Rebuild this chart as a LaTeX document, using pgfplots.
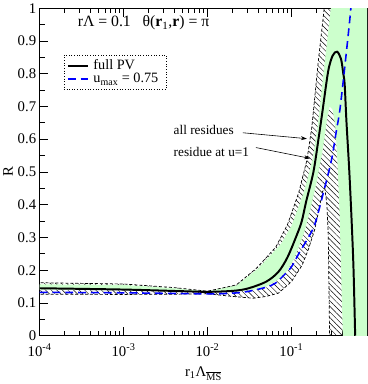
\documentclass[border=0pt]{standalone}
\usepackage{fontspec}
\setmainfont{Liberation Serif}
\usepackage{pgfplots}
\pgfplotsset{compat=1.18}
\usetikzlibrary{patterns.meta,arrows.meta}
\definecolor{bandgreen}{RGB}{204,255,204}

\newcommand{\tfont}{\fontsize{15}{17}\selectfont}

\begin{document}
\begin{tikzpicture}
\begin{axis}[
  scale only axis, width=332bp, height=332bp,
  xmode=log, xmin=1e-4, xmax=0.8, ymin=0, ymax=1,
  xtick={1e-4,1e-3,1e-2,1e-1},
  xticklabels={10\textsuperscript{-4},10\textsuperscript{-3},10\textsuperscript{-2},10\textsuperscript{-1}},
  minor xtick={2e-4,3e-4,4e-4,5e-4,6e-4,7e-4,8e-4,9e-4,
               2e-3,3e-3,4e-3,5e-3,6e-3,7e-3,8e-3,9e-3,
               2e-2,3e-2,4e-2,5e-2,6e-2,7e-2,8e-2,9e-2,
               0.2,0.3,0.4,0.5,0.6,0.7},
  ytick={0,0.1,0.2,0.3,0.4,0.5,0.6,0.7,0.8,0.9,1},
  yticklabels={0,0.1,0.2,0.3,0.4,0.5,0.6,0.7,0.8,0.9,1},
  minor ytick={0.05,0.15,0.25,0.35,0.45,0.55,0.65,0.75,0.85,0.95},
  tick align=inside, major tick length=9bp, minor tick length=5bp,
  tick style={black, line width=0.8pt},
  axis line style={line width=1.1pt},
  ticklabel style={font=\tfont},
  xticklabel style={yshift=-5bp},
  label style={font=\tfont},
  xlabel={r\textsubscript{1}Λ\textsubscript{$\overline{\mbox{MS}}$}},
  ylabel={R},
  xlabel style={yshift=-4bp},
  ylabel style={yshift=-2bp},
  legend style={at={(0.073,0.858)}, anchor=north west, draw=black, dotted,
    line width=0.7pt, font=\fontsize{14.5}{16}\selectfont, inner sep=3bp,
    row sep=-2bp, nodes={inner xsep=5bp}},
  legend image code/.code={\draw[#1] (0bp,0bp) -- (20bp,0bp);},
  legend cell align=left,
]
% residue at u=1 (hatched band)
\addplot[draw=none, pattern={Lines[angle=-45, distance=4bp, line width=0.45bp]},
  pattern color=black, forget plot] coordinates {
  (9e-5,0.162) (1e-3,0.158) (0.004,0.147) (0.01,0.136) (0.022,0.155)
  (0.038,0.205) (0.065,0.27) (0.09,0.34) (0.122,0.436) (0.153,0.536)
  (0.175,0.636) (0.209,0.837) (0.246,1.0) (0.26,1.3) (0.9,1.3) (0.9,-0.2)
  (0.287,-0.2) (0.285,0) (0.28,0.15) (0.275,0.30) (0.265,0.40) (0.25,0.45)
  (0.235,0.44) (0.215,0.39) (0.19,0.325) (0.16,0.265) (0.134,0.215) (0.1,0.165)
  (0.07,0.13) (0.05,0.12) (0.035,0.1145) (0.02,0.12) (0.01,0.128)
  (0.005,0.127) (0.001,0.126) (9e-5,0.127)} -- cycle;
% all residues (green band)
\addplot[draw=none, fill=bandgreen, forget plot] coordinates {
  (9e-5,0.157) (1e-3,0.155) (0.004,0.145) (0.01,0.136) (0.022,0.153)
  (0.04,0.205) (0.075,0.28) (0.1,0.335) (0.14,0.436)
  (0.178,0.536) (0.205,0.636) (0.25,0.837) (0.295,1.0) (0.31,1.05)
  (0.9,1.05) (0.9,-0.2) (0.415,-0.2) (0.41,0) (0.395,0.15) (0.377,0.355)
  (0.355,0.52) (0.335,0.635) (0.31,0.69) (0.285,0.70) (0.265,0.66)
  (0.25,0.61) (0.23,0.55) (0.2,0.47) (0.17,0.39) (0.14,0.31)
  (0.11,0.24) (0.09,0.2) (0.07,0.172) (0.05,0.15) (0.035,0.14)
  (0.02,0.134) (0.01,0.133) (0.001,0.139) (9e-5,0.141)} -- cycle;
% dashed edges of the hatched band
\addplot[black, line width=0.7bp, dash pattern=on 3bp off 2bp, forget plot] coordinates {
  (9e-5,0.162) (1e-3,0.158) (0.004,0.147) (0.01,0.136) (0.022,0.155)
  (0.038,0.205) (0.065,0.27) (0.09,0.34) (0.122,0.436) (0.153,0.536)
  (0.175,0.636) (0.209,0.837) (0.246,1.0) (0.26,1.3)};
\addplot[black, line width=0.7bp, dash pattern=on 3bp off 2bp, forget plot] coordinates {
  (9e-5,0.127) (0.001,0.126) (0.005,0.127) (0.01,0.128) (0.02,0.12)
  (0.035,0.1145) (0.05,0.12) (0.07,0.13) (0.1,0.165) (0.134,0.215)
  (0.16,0.265) (0.19,0.325) (0.215,0.39) (0.235,0.44) (0.25,0.45)
  (0.265,0.40) (0.275,0.30) (0.28,0.15) (0.285,0) (0.287,-0.2)};
% full PV
\addplot[black, solid, line width=2bp, smooth] coordinates {
  (1e-4,0.145) (1e-3,0.141) (0.005,0.136) (0.01,0.134) (0.02,0.137)
  (0.03,0.144) (0.05,0.165) (0.07,0.195) (0.09,0.24) (0.117,0.31)
  (0.133,0.35) (0.15,0.41) (0.183,0.50) (0.21,0.60) (0.235,0.687)
  (0.274,0.807) (0.31,0.855) (0.35,0.867) (0.39,0.845) (0.415,0.80)
  (0.431,0.768) (0.452,0.657) (0.49,0.50) (0.525,0.335) (0.55,0.20)
  (0.575,0.0)};
\addlegendentry{full PV}
% u_max = 0.75
\addplot[draw=blue, color=blue, line width=1.6bp, dash pattern=on 8bp off 5bp, smooth] coordinates {
  (1e-4,0.1325) (1e-3,0.131) (0.01,0.128) (0.02,0.13) (0.03,0.135)
  (0.05,0.148) (0.064,0.16) (0.078,0.18) (0.1,0.21) (0.122,0.25)
  (0.155,0.295) (0.19,0.34) (0.24,0.436) (0.30,0.536) (0.344,0.627)
  (0.377,0.687) (0.431,0.817) (0.507,0.99) (0.52,1.05)};
\addlegendentry{u\textsubscript{max} = 0.75}
\node[anchor=west, font=\fontsize{16}{18}\selectfont] at (rel axis cs:0.106,0.955)
  {rΛ = 0.1\hspace{12bp}θ(\textbf{r}\textsubscript{1},\textbf{r}) = π};
\node[anchor=west, font=\fontsize{13.5}{15}\selectfont] at (axis cs:0.0036,0.627) {all residues};
\node[anchor=west, font=\fontsize{13.5}{15}\selectfont] at (axis cs:0.0036,0.561) {residue at u=1};
\draw[-{Stealth[length=6bp,width=4bp]}, line width=0.6bp] (axis cs:0.02635,0.6196) -- (axis cs:0.1529,0.6015);
\draw[-{Stealth[length=6bp,width=4bp]}, line width=0.6bp] (axis cs:0.03776,0.5744) -- (axis cs:0.1671,0.5413);
\end{axis}
\end{tikzpicture}
\end{document}
